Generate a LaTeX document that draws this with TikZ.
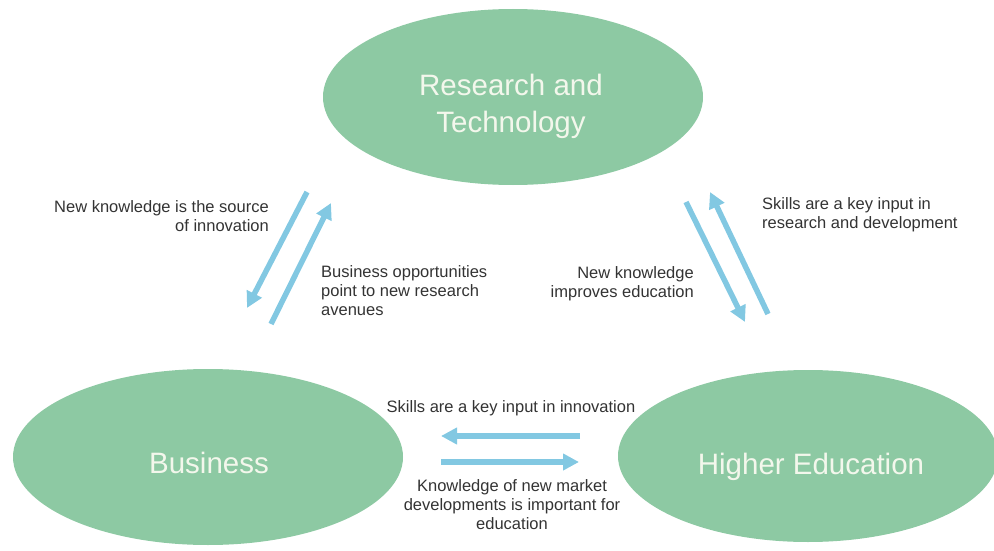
\documentclass[tikz,border=0pt]{standalone}
\usepackage{fontspec}
\setmainfont{Liberation Sans}
\usetikzlibrary{shapes.geometric,arrows.meta}
\definecolor{leaf}{HTML}{8DC9A3}
\definecolor{sky}{HTML}{82C8E2}
\definecolor{ink}{HTML}{333333}
\definecolor{chalk}{HTML}{F3F7EC}

\begin{document}
\begin{tikzpicture}[x=1pt,y=-1pt,
    blob/.style={ellipse,fill=leaf,inner sep=0pt},
    title/.style={text=chalk,inner sep=0pt,align=center,
      font=\fontsize{29.5}{37}\selectfont},
    note/.style={text=ink,inner sep=0pt,font=\fontsize{16.5}{19}\selectfont},
    flow/.style={sky,line width=5.5pt,-{Triangle[width=16pt,length=16pt]}}]
  \useasboundingbox (0,0) rectangle (994,551);
  % the three sectors
  \node[blob,minimum width=380pt,minimum height=176pt] (rt) at (513,97) {};
  \node[blob,minimum width=390pt,minimum height=176pt] (biz) at (208,457) {};
  \node[blob,minimum width=380pt,minimum height=172pt] (he) at (808,456) {};
  \node[title] (rt-t) at (511,106) {Research and\\Technology};
  \node[title] (biz-t) at (209,463) {Business};
  \node[title] (he-t) at (811,467) {Higher Education};
  % arrow ends
  \coordinate (rb-1) at (307,192);  \coordinate (rb-2) at (247,308);
  \coordinate (br-1) at (271,324);  \coordinate (br-2) at (331,203);
  \coordinate (rh-1) at (686,202);  \coordinate (rh-2) at (745,322);
  \coordinate (hr-1) at (768,314);  \coordinate (hr-2) at (710,192);
  \coordinate (hb-1) at (580,436);  \coordinate (hb-2) at (441,436);
  \coordinate (bh-1) at (441,462);  \coordinate (bh-2) at (579,462);
  \foreach \i in {rb,br,rh,hr,hb,bh}{
    \draw[flow] (\i-1) -- (\i-2);
  }
  % labels
  \node[note,align=right,anchor=east] (src) at (269,216) {New knowledge is the source\\of innovation};
  \node[note,align=left,anchor=west] (opp) at (321,291) {Business opportunities\\point to new research\\avenues};
  \node[note,align=left,anchor=west] (rnd) at (762,215) {Skills are a key input in\\research and development};
  \node[note,align=right,anchor=east] (edu) at (694,284) {New knowledge\\improves education};
  \node[note] (inn) at (511,408) {Skills are a key input in innovation};
  \node[note,align=center] (mkt) at (512,505) {Knowledge of new market\\developments is important for\\education};
\end{tikzpicture}
\end{document}
